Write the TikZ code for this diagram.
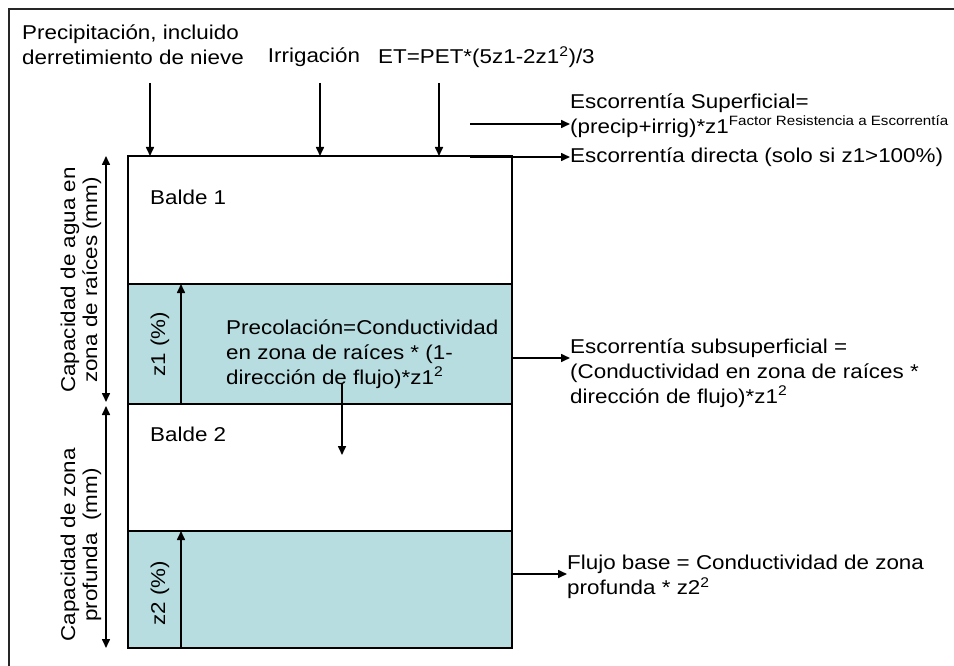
\documentclass[tikz,border=0pt]{standalone}
\usepackage{fontspec}
\setmainfont{Liberation Sans}[FakeStretch=1.12]
\usepackage{tikz}
\usetikzlibrary{arrows.meta,positioning}
\definecolor{soilblue}{RGB}{183,221,224}
\tikzset{
  flow/.style={-{Triangle[length=9pt,width=8pt]}, line width=1.6pt},
  dimarrow/.style={{Triangle[length=9pt,width=8pt]}-{Triangle[length=9pt,width=8pt]}, line width=1.6pt},
  boxline/.style={line width=1.6pt},
  lbl/.style={font=\fontsize{20}{25}\selectfont, inner sep=0pt, align=left},
  vlbl/.style={font=\fontsize{20}{22}\selectfont, inner sep=0pt, align=center, rotate=90},
}

\begin{document}
\begin{tikzpicture}[x=1pt,y=-1pt]
  \useasboundingbox (0,0) rectangle (954,666);
  % frame
  \draw[line width=2pt, black!85] (9,666) -- (9,9) -- (954,9);
  % bucket layers
  \fill[soilblue] (128,284) rectangle (512,404);
  \fill[soilblue] (128,531) rectangle (512,648);
  \draw[boxline] (128,156) rectangle (512,648);
  \draw[boxline] (128,284) -- (512,284);
  \draw[boxline] (128,404) -- (512,404);
  \draw[boxline] (128,531) -- (512,531);
  % points on the bucket
  \coordinate (pIn) at (150,156);
  \coordinate (iIn) at (320,156);
  \coordinate (etIn) at (439,156);
  \coordinate (supOut) at (470,124);
  \coordinate (dirOut) at (470,157);
  \coordinate (subOut) at (512,358);
  \coordinate (baseOut) at (512,574);
  \coordinate (percTop) at (342,383);
  \coordinate (percBot) at (342,455);
  \coordinate (capTop) at (106,156);
  \coordinate (capMid1) at (106,402);
  \coordinate (capMid2) at (106,406);
  \coordinate (capBot) at (106,648);
  \coordinate (zOneBot) at (181,404);
  \coordinate (zOneTop) at (181,284);
  \coordinate (zTwoBot) at (181,648);
  \coordinate (zTwoTop) at (181,531);
  % inputs
  \node[lbl, anchor=west] (precip) at (22,44.5) {Precipitación, incluido\\derretimiento de nieve};
  \node[lbl] (irrig) at (314,57) {Irrigación};
  \node[lbl, anchor=west] (et) at (378,57) {ET=PET*(5z1-2z1\textsuperscript{2})/3};
  \draw[flow] (pIn |- 0,83) -- (pIn);
  \draw[flow] (iIn |- 0,83) -- (iIn);
  \draw[flow] (etIn |- 0,83) -- (etIn);
  % outputs
  \node[lbl, anchor=west] (escsup) at (570,115.5) {Escorrentía Superficial=\\(precip+irrig)*z1\textsuperscript{\fontsize{13.5}{13.5}\selectfont Factor Resistencia a Escorrentía}};
  \node[lbl, anchor=west] (escdir) at (570,157) {Escorrentía directa (solo si z1>100\%)};
  \node[lbl, anchor=west] (escsub) at (570,373) {Escorrentía subsuperficial =\\(Conductividad en zona de raíces *\\dirección de flujo)*z1\textsuperscript{2}};
  \node[lbl, anchor=west] (flujo) at (567,577) {Flujo base = Conductividad de zona\\profunda * z2\textsuperscript{2}};
  \draw[flow] (supOut) -- (supOut -| escsup.west);
  \draw[flow] (dirOut) -- (dirOut -| escdir.west);
  \draw[flow] (subOut) -- (subOut -| escsub.west);
  \draw[flow] (baseOut) -- (baseOut -| flujo.west);
  % inside the buckets
  \node[lbl, anchor=west] (b1) at (150,197) {Balde 1};
  \node[lbl, anchor=west] (b2) at (150,434) {Balde 2};
  \node[lbl, anchor=west] (perc) at (226,354) {Precolación=Conductividad\\en zona de raíces * (1-\\dirección de flujo)*z1\textsuperscript{2}};
  \draw[flow] (percTop) -- (percBot);
  \node[vlbl] (zone) at (160,344) {z1 (\%)};
  \node[vlbl] (ztwo) at (160,593) {z2 (\%)};
  \draw[flow] (zOneBot) -- (zOneTop);
  \draw[flow] (zTwoBot) -- (zTwoTop);
  % capacities
  \node[vlbl] (cap1) at (81,280) {Capacidad de agua en\\zona de raíces (mm)};
  \node[vlbl] (cap2) at (81,545) {Capacidad de zona\\profunda\ \ (mm)};
  \draw[dimarrow] (capTop) -- (capMid1);
  \draw[dimarrow] (capMid2) -- (capBot);
\end{tikzpicture}
\end{document}
